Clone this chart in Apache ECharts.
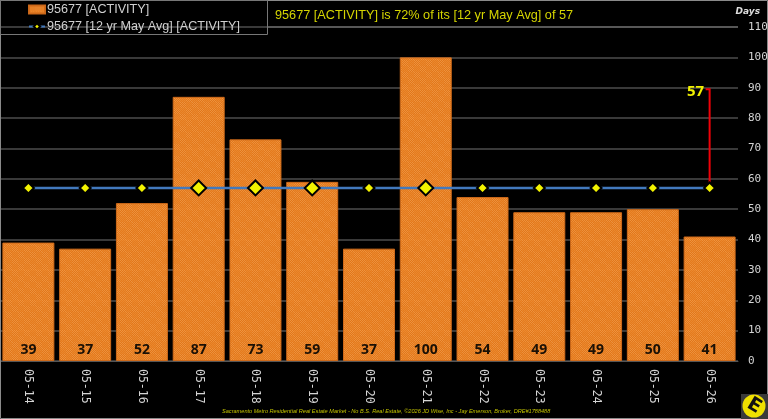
<!DOCTYPE html>
<html>
<head>
<meta charset="utf-8">
<style>html,body{margin:0;padding:0;background:#000}#chart{width:768px;height:419px}</style>
<script src="https://cdn.jsdelivr.net/npm/echarts@6/dist/echarts.min.js"></script>
</head>
<body>
<div id="chart"></div>
<script>
// Listing activity for one ZIP code, by May of each year
const months = ['05-14','05-15','05-16','05-17','05-18','05-19','05-20','05-21','05-22','05-23','05-24','05-25','05-26'];
const activity = [39,37,52,87,73,59,37,100,54,49,49,50,41];
const average = [57,57,57,57,57,57,57,57,57,57,57,57,57];
const calloutTop = 89.5;
const barName = '95677 [ACTIVITY]';
const avgName = '95677 [12 yr May Avg] [ACTIVITY]';
const headline = '95677 [ACTIVITY] is 72% of its [12 yr May Avg] of 57';
const footer = 'Sacramento Metro Residential Real Estate Market - No B.S. Real Estate, ©2026 JD Wise, Inc - Jay Emerson, Broker, DRE#1788488';

// Woven orange fill for the bars
function weave() {
  const c = document.createElement('canvas');
  c.width = c.height = 12;
  const g = c.getContext('2d');
  for (let y = 0; y < 12; y++) {
    for (let x = 0; x < 12; x++) {
      const band = (x % 12 < 6) !== (y % 12 < 6);
      const dot = (x + y) % 2 === 0;
      g.fillStyle = dot ? (band ? '#f5973f' : '#f28c2e') : (band ? '#ea7a1a' : '#ec7f20');
      g.fillRect(x, y, 1, 1);
    }
  }
  return c;
}

const chart = echarts.init(document.getElementById('chart'));
chart.setOption({
  animation: false,
  backgroundColor: '#000',
  title: [
    { text: headline, left: 275, top: 9, padding: 0, textStyle: { color: '#d6d600', fontSize: 12.7, fontWeight: 'normal', fontFamily: 'Liberation Sans' } },
    { text: footer, left: 222, top: 408, padding: 0, textStyle: { color: '#c4c400', fontSize: 5.6, fontStyle: 'italic', fontWeight: 'normal', fontFamily: 'Liberation Sans' } }
  ],
  legend: {
    orient: 'vertical', left: 28, top: 3, itemGap: 4, itemWidth: 16, itemHeight: 8,
    padding: 0,
    textStyle: { color: '#d0d0d0', fontSize: 12.6, fontFamily: 'Liberation Sans', padding: [0, 0, 0, -3] },
    data: [{ name: barName, icon: 'rect' }, { name: avgName }]
  },
  grid: { left: 0, right: 30, top: 27, bottom: 58, outerBoundsMode: 'none' },
  xAxis: {
    type: 'category', data: months,
    axisTick: { show: false },
    axisLine: { lineStyle: { color: '#555' } },
    axisLabel: { rotate: -90, margin: 8, color: '#d4d4d4', fontSize: 11.5, fontFamily: 'DejaVu Sans Mono' }
  },
  yAxis: {
    type: 'value', position: 'right', min: 0, max: 110, interval: 10,
    name: 'Days', nameLocation: 'end', nameGap: 11,
    nameTextStyle: { color: '#ddd', fontSize: 9, fontStyle: 'italic', fontWeight: 'bold', fontFamily: 'DejaVu Sans', align: 'right', padding: [0, -22, 0, 0] },
    axisLine: { show: false }, axisTick: { show: false },
    axisLabel: { margin: 10, color: '#d4d4d4', fontSize: 11, fontFamily: 'DejaVu Sans Mono', align: 'left' },
    splitLine: { lineStyle: { color: '#4c4c4c', width: 1.5 } }
  },
  series: [
    {
      name: barName, type: 'bar', data: activity, barWidth: 52, z: 2,
      itemStyle: { color: { image: weave(), repeat: 'repeat' }, borderColor: '#cf6a1a', borderWidth: 1, opacity: 0.97 },
      label: { show: true, position: 'insideBottom', distance: 4, color: '#140c04', fontSize: 14, fontWeight: 'bold', fontFamily: 'Noto Sans' }
    },
    {
      // Red callout rising from the latest average point
      type: 'custom', z: 4, silent: true, legendHoverLink: false, tooltip: { show: false },
      data: [[12, 57, calloutTop]],
      renderItem: function (params, api) {
        const low = api.coord([api.value(0), api.value(1)]);
        const high = api.coord([api.value(0), api.value(2)]);
        return {
          type: 'polyline',
          shape: { points: [[high[0] - 4, high[1]], high, low] },
          style: { stroke: '#f00008', lineWidth: 2, fill: null }
        };
      }
    },
    {
      name: avgName, type: 'line', data: average, z: 5,
      symbol: 'diamond',
      symbolSize: function (v, p) { return activity[p.dataIndex] > v ? 15 : 11; },
      lineStyle: { color: '#4279bd', width: 2.5 },
      itemStyle: { color: '#f2f200', borderColor: '#000', borderWidth: 2 },
      markPoint: {
        symbol: 'circle', symbolSize: 1, silent: true, itemStyle: { color: 'transparent' },
        data: [{ coord: [12, calloutTop], value: average[12],
          label: { show: true, position: 'left', distance: 5, offset: [0, 2], color: '#f0f000', fontSize: 15, fontWeight: 'bold', fontFamily: 'Noto Sans' } }]
      }
    }
  ],
  graphic: [
    // Frame around the picture and the legend and headline boxes
    { type: 'rect', silent: true, z: 10, shape: { x: 0.5, y: 0.5, width: 767, height: 418 }, style: { fill: null, stroke: '#8a8a8a', lineWidth: 1 } },
    { type: 'rect', silent: true, z: 10, shape: { x: 0.5, y: 0.5, width: 267, height: 34 }, style: { fill: null, stroke: '#777', lineWidth: 1 } },
    { type: 'line', silent: true, z: 10, shape: { x1: 268, y1: 27, x2: 738, y2: 27 }, style: { stroke: '#777', lineWidth: 1 } },
    // Broker badge, lower right
    { type: 'rect', silent: true, z: 10, shape: { x: 741, y: 394, width: 27, height: 25 }, style: { fill: '#3a3a3a' } },
    { type: 'circle', silent: true, z: 11, shape: { cx: 754, cy: 406, r: 11.5 }, style: { fill: '#f0e000' } },
    { type: 'text', silent: true, z: 12, x: 754, y: 406, rotation: -0.55, style: { text: 'E', x: 0, y: 0, fill: '#111', font: 'bold 19px "DejaVu Sans"', align: 'center', verticalAlign: 'middle' } }
  ]
});
</script>
</body>
</html>
